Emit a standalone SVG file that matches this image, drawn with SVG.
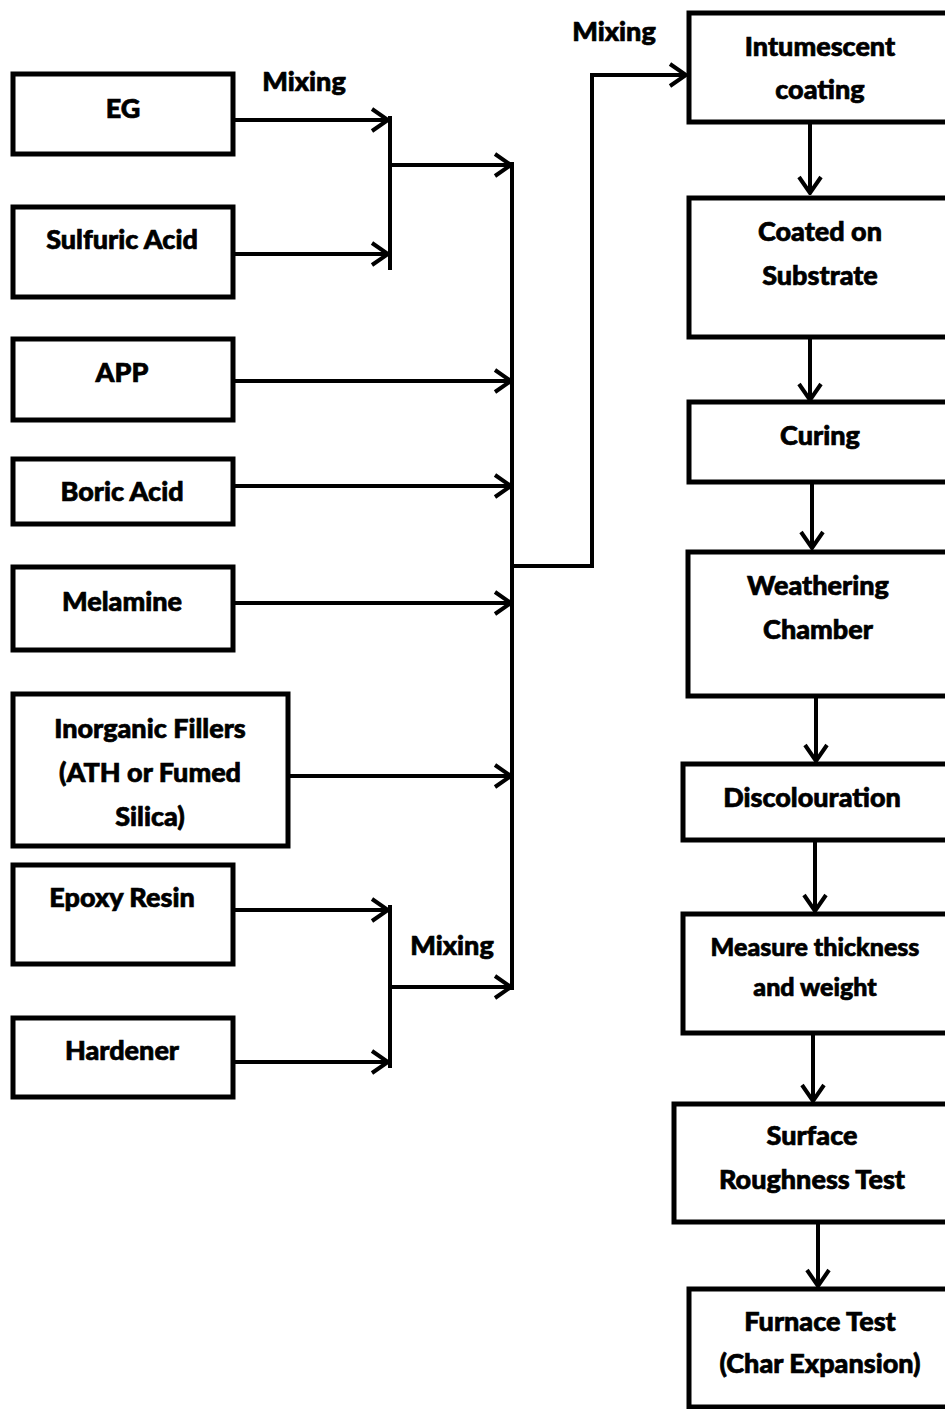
<svg xmlns="http://www.w3.org/2000/svg" width="945" height="1409" viewBox="0 0 945 1409">
<defs>
<style>
.box{fill:#fff;stroke:#000;stroke-width:5}
.ln{fill:none;stroke:#000;stroke-width:4}
.ar{fill:none;stroke:#000;stroke-width:4;marker-end:url(#ah)}
text{font-family:Lato,"Open Sans","Liberation Sans",sans-serif;font-weight:900;font-size:27px;fill:#000;stroke:#000;stroke-width:0.7;text-anchor:middle}
.sm{font-size:25px}
</style>
<marker id="ah" markerUnits="userSpaceOnUse" markerWidth="20" markerHeight="26" viewBox="0 0 20 26" refX="18" refY="13" orient="auto">
<path d="M2,2 L18,13 L2,24" fill="none" stroke="#000" stroke-width="4"/>
</marker>
</defs>
<rect width="945" height="1409" fill="#fff"/>
<g id="connectors">
<path class="ar" d="M233,120 H388"/>
<path class="ar" d="M233,254 H388"/>
<path class="ln" d="M390,116 V270"/>
<path class="ar" d="M390,165 H511"/>
<path class="ln" d="M512,162 V990"/>
<path class="ar" d="M233,381 H511"/>
<path class="ar" d="M233,486 H511"/>
<path class="ar" d="M233,603 H511"/>
<path class="ar" d="M288,776 H511"/>
<path class="ar" d="M233,910 H388"/>
<path class="ar" d="M233,1062 H388"/>
<path class="ln" d="M390,905 V1068"/>
<path class="ar" d="M390,987 H511"/>
<path class="ln" d="M512,566 H592 V75"/>
<path class="ar" d="M590,75 H686"/>
<path class="ar" d="M810,122 V193"/>
<path class="ar" d="M810,337 V400"/>
<path class="ar" d="M812,482 V548"/>
<path class="ar" d="M816,696 V761"/>
<path class="ar" d="M815,840 V911"/>
<path class="ar" d="M813,1033 V1101"/>
<path class="ar" d="M818,1222 V1286"/>
<text x="304" y="91">Mixing</text>
<text x="614" y="41">Mixing</text>
<text x="452" y="955">Mixing</text>
</g>
<g id="n-eg"><rect class="box" x="13" y="74" width="220" height="80"/><text x="123" y="118">EG</text></g>
<g id="n-sulfuric"><rect class="box" x="13" y="207" width="220" height="90"/><text x="122" y="249">Sulfuric Acid</text></g>
<g id="n-app"><rect class="box" x="13" y="339" width="220" height="81"/><text x="122" y="382">APP</text></g>
<g id="n-boric"><rect class="box" x="13" y="459" width="220" height="65"/><text x="122" y="501">Boric Acid</text></g>
<g id="n-melamine"><rect class="box" x="13" y="567" width="220" height="83"/><text x="122" y="611">Melamine</text></g>
<g id="n-fillers"><rect class="box" x="13" y="694" width="275" height="152"/><text x="150" y="738">Inorganic Fillers</text><text x="150" y="782">(ATH or Fumed</text><text x="150" y="826">Silica)</text></g>
<g id="n-epoxy"><rect class="box" x="13" y="865" width="220" height="99"/><text x="122" y="907">Epoxy Resin</text></g>
<g id="n-hardener"><rect class="box" x="13" y="1018" width="220" height="79"/><text x="122" y="1060">Hardener</text></g>
<g id="n-intumescent"><rect class="box" x="689" y="13" width="270" height="109"/><text x="820" y="56">Intumescent</text><text x="820" y="99">coating</text></g>
<g id="n-coated"><rect class="box" x="689" y="198" width="270" height="139"/><text x="820" y="241">Coated on</text><text x="820" y="285">Substrate</text></g>
<g id="n-curing"><rect class="box" x="689" y="402" width="270" height="80"/><text x="820" y="445">Curing</text></g>
<g id="n-weathering"><rect class="box" x="688" y="552" width="270" height="144"/><text x="818" y="595">Weathering</text><text x="818" y="639">Chamber</text></g>
<g id="n-discolouration"><rect class="box" x="683" y="764" width="270" height="76"/><text x="812" y="807">Discolouration</text></g>
<g id="n-measure"><rect class="box" x="683" y="914" width="270" height="119"/><text class="sm" x="815" y="956">Measure thickness</text><text class="sm" x="815" y="996">and weight</text></g>
<g id="n-surface"><rect class="box" x="674" y="1104" width="280" height="118"/><text x="812" y="1145">Surface</text><text x="812" y="1189">Roughness Test</text></g>
<g id="n-furnace"><rect class="box" x="689" y="1289" width="270" height="118"/><text x="820" y="1331">Furnace Test</text><text x="820" y="1373">(Char Expansion)</text></g>
</svg>
